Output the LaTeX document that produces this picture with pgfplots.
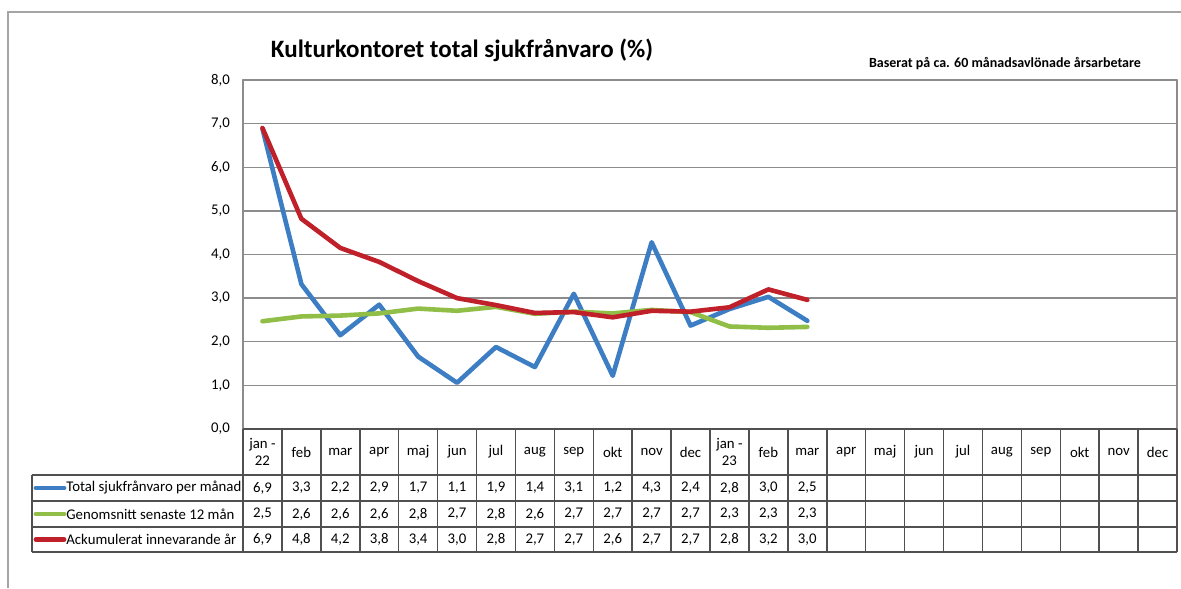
\documentclass[border=0pt]{standalone}
\usepackage{pgfplots}
\pgfplotsset{compat=1.18}
\usepackage{fontspec}
\setmainfont{Carlito}
\definecolor{cblue}{RGB}{60,125,195}
\definecolor{cgreen}{RGB}{145,190,70}
\definecolor{cred}{RGB}{192,32,42}
\definecolor{gridgray}{RGB}{140,140,140}
\definecolor{tabgray}{RGB}{80,80,80}
\definecolor{framegray}{RGB}{165,165,165}
\begin{document}
\begin{tikzpicture}
\begin{scope}[x=0.5pt,y=-0.5pt]
\useasboundingbox (0,0) rectangle (1181,588);
\draw[framegray, line width=0.8pt] (8,588) -- (8,12) -- (1181,12);
\end{scope}
\begin{axis}[
  at={(121.5pt,-214.5pt)}, anchor=south west,
  scale only axis, width=467pt, height=174.5pt,
  xmin=0.5, xmax=24.5, ymin=0, ymax=8,
  ytick={0,1,...,8}, xtick=\empty,
  ymajorgrids,
  grid style={gridgray, line width=0.7pt},
  axis line style={gridgray, line width=0.8pt},
  tick style={draw=none},
  yticklabel style={font=\fontsize{7.4}{8}\selectfont, xshift=-3pt,
    /pgf/number format/fixed, /pgf/number format/fixed zerofill,
    /pgf/number format/precision=1, /pgf/number format/use comma,
    /pgf/number format/assume math mode=true},
  clip=false,
  line join=round, line cap=round,
]
\addplot[cblue, line width=2.3pt] coordinates {
 (1,6.88) (2,3.32) (3,2.15) (4,2.85) (5,1.66) (6,1.06) (7,1.88) (8,1.42)
 (9,3.10) (10,1.22) (11,4.28) (12,2.37) (13,2.75) (14,3.03) (15,2.48)};
\addplot[cgreen, line width=2.3pt] coordinates {
 (1,2.47) (2,2.58) (3,2.60) (4,2.65) (5,2.76) (6,2.71) (7,2.80) (8,2.64)
 (9,2.69) (10,2.65) (11,2.73) (12,2.68) (13,2.35) (14,2.32) (15,2.34)};
\addplot[cred, line width=2.3pt] coordinates {
 (1,6.90) (2,4.82) (3,4.15) (4,3.83) (5,3.39) (6,3.00) (7,2.84) (8,2.66)
 (9,2.68) (10,2.56) (11,2.71) (12,2.69) (13,2.79) (14,3.20) (15,2.96)};
\end{axis}
\begin{scope}[x=0.5pt,y=-0.5pt, every node/.style={font=\fontsize{7.4}{8.4}\selectfont, inner sep=0pt}]
% title
\node[anchor=base, font=\fontsize{12.5}{14}\selectfont\bfseries] at (462,58) {Kulturkontoret total sjukfrånvaro (\%)};
\node[anchor=base, font=\fontsize{7}{8}\selectfont\bfseries] at (1005,68) {Baserat på ca. 60 månadsavlönade årsarbetare};
% table grid
\foreach \yy in {475,501,527,552} \draw[tabgray, line width=0.75pt] (32,\yy) -- (1177,\yy);
\draw[tabgray, line width=0.75pt] (243,429) -- (1177,429);
\foreach \k in {0,...,24} {
  \pgfmathsetmacro{\xx}{243+\k*38.9167}
  \draw[tabgray, line width=0.75pt] (\xx,429) -- (\xx,552);
}
\draw[tabgray, line width=0.75pt] (32,475) -- (32,552);
% header labels
\foreach \lab [count=\i] in {{jan -\\22},feb,mar,apr,maj,jun,jul,aug,sep,okt,nov,dec,{jan -\\23},feb,mar,apr,maj,jun,jul,aug,sep,okt,nov,dec} {
  \pgfmathsetmacro{\xx}{243+(\i-0.5)*38.9167}
  \node[align=center] at (\xx,452) {\lab};
}
% legend column
\draw[cblue, line width=2.4pt, line cap=round] (36,488) -- (64,488);
\draw[cgreen, line width=2.4pt, line cap=round] (36,514) -- (64,514);
\draw[cred, line width=2.4pt, line cap=round] (36,539.5) -- (64,539.5);
\node[anchor=west] at (66,488) {Total sjukfrånvaro per månad};
\node[anchor=west] at (66,514) {Genomsnitt senaste 12 mån};
\node[anchor=west] at (66,539.5) {Ackumulerat innevarande år};
% values
\foreach \v [count=\i] in {{6,9},{3,3},{2,2},{2,9},{1,7},{1,1},{1,9},{1,4},{3,1},{1,2},{4,3},{2,4},{2,8},{3,0},{2,5}} {
  \pgfmathsetmacro{\xx}{243+(\i-0.5)*38.9167}
  \node at (\xx,488) {\v};
}
\foreach \v [count=\i] in {{2,5},{2,6},{2,6},{2,6},{2,8},{2,7},{2,8},{2,6},{2,7},{2,7},{2,7},{2,7},{2,3},{2,3},{2,3}} {
  \pgfmathsetmacro{\xx}{243+(\i-0.5)*38.9167}
  \node at (\xx,514) {\v};
}
\foreach \v [count=\i] in {{6,9},{4,8},{4,2},{3,8},{3,4},{3,0},{2,8},{2,7},{2,7},{2,6},{2,7},{2,7},{2,8},{3,2},{3,0}} {
  \pgfmathsetmacro{\xx}{243+(\i-0.5)*38.9167}
  \node at (\xx,539.5) {\v};
}
\end{scope}
\end{tikzpicture}
\end{document}
